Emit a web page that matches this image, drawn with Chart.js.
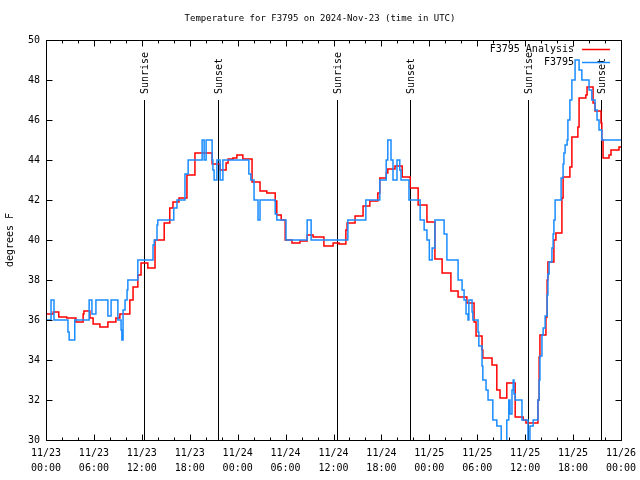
<!DOCTYPE html>
<html>
<head>
<meta charset="utf-8">
<script src="https://cdn.jsdelivr.net/npm/chart.js@4/dist/chart.umd.min.js"></script>
<style>
  html, body { margin: 0; padding: 0; background: #fff; }
</style>
</head>
<body>
<canvas id="myChart" width="640" height="480"></canvas>
<script>
// hours since 11/23 00:00 UTC, temperature in degrees F
const obsHours = [0, 0.63, 1.0, 2.75, 2.9, 3.6, 5.4, 5.75, 6.25, 7.75, 8.15, 9.0, 9.4, 9.5, 9.65, 9.9, 10.15, 10.25,
  11.5, 13.4, 13.55, 13.9, 14.0, 16.0, 16.4, 17.4, 17.8, 19.55, 19.8, 20.05, 20.8, 20.9, 21.05, 21.4, 21.8, 22.15,
  25.4, 25.65, 26.05, 26.55, 26.8, 28.7, 28.9, 30.05, 32.7, 33.2, 37.8, 40.05, 41.8, 42.6, 42.8, 43.2, 43.45, 43.95,
  44.3, 44.45, 45.45, 46.85, 47.35, 47.7, 48.0, 48.35, 48.7, 49.85, 50.2, 51.6, 52.1, 52.35, 52.6, 52.85, 52.95,
  53.35, 53.45, 54.1, 54.2, 54.6, 54.7, 55.1, 55.35, 55.95, 56.45, 57.0, 57.7, 57.95, 58.1, 58.35, 58.5, 58.6, 58.75,
  59.6, 60.1, 60.35, 60.6, 61.0, 61.6, 61.75, 61.85, 62.1, 62.25, 62.5, 62.75, 62.85, 63.0, 63.35, 63.5, 63.6, 63.75,
  64.5, 64.75, 64.85, 65.0, 65.25, 65.35, 65.6, 65.85, 66.25, 66.75, 67.1, 68.0, 68.35, 68.75, 69.0, 69.25, 69.6, 72];
const obsTemps = [36, 37, 36, 35.4, 35, 36, 37, 36.3, 37, 36.2, 37, 36, 35.5, 35, 36.5, 37, 37.5, 38,
  39, 39.75, 40, 40.75, 41, 41.6, 42, 43.3, 44, 45, 44, 45, 44, 43.5, 43, 44, 43, 44,
  43.3, 43, 42, 41, 42, 41.3, 41, 40, 41, 40, 41, 42, 43, 44, 45, 44, 43, 44,
  43.5, 43, 42, 41, 40.5, 40, 39, 39.6, 41, 40.3, 39, 38, 37.5, 37, 36.3, 36, 37,
  36.4, 36, 35.4, 34.7, 33.7, 33, 32.5, 32, 31, 30.7, 29.5, 31, 32, 31.3, 32.5, 33, 32.3, 32,
  31, 31, 29.5, 30.7, 31, 32, 33, 34.2, 35.25, 35.6, 36.2, 37.25, 38.3, 38.9, 39.6, 40.3, 41, 42,
  43.1, 43.8, 44.35, 44.75, 45, 46, 47, 48, 49, 48.5, 48, 47.5, 47, 46.5, 46, 45.5, 45, 45];

const anaHours = [0, 0.9, 1.6, 2.6, 3.75, 4.65, 4.75, 5.5, 5.9, 6.75, 7.75, 8.75, 9.25, 10.5, 10.9, 11.5, 11.9,
  12.75, 13.65, 14.8, 15.5, 15.9, 16.65, 17.65, 18.65, 20.8, 21.8, 22.55, 22.8, 23.4, 23.9, 24.65, 25.8, 26.8,
  27.65, 28.7, 28.9, 29.45, 29.95, 30.8, 31.8, 32.7, 33.45, 34.8, 35.95, 36.7, 37.55, 37.7, 38.7, 39.7, 40.55,
  41.55, 41.8, 42.6, 42.8, 43.7, 44.6, 45.6, 46.6, 47.7, 48.7, 49.6, 50.7, 51.6, 52.7, 53.6, 53.85, 54.6, 54.7,
  55.85, 56.45, 56.85, 57.7, 58.75, 59.75, 60.1, 61.6, 61.75, 61.85, 62.6, 62.75, 62.85, 63.6, 63.85, 64.6, 64.75,
  65.6, 65.85, 66.6, 66.75, 67.6, 67.75, 68.5, 68.75, 69.5, 69.6, 69.75, 70.5, 70.75, 71.75, 72];
const anaTemps = [36.3, 36.4, 36.15, 36.1, 35.9, 36.3, 36.45, 36.1, 35.8, 35.65, 35.9, 36.1, 36.3, 37.0, 37.65, 38.25, 38.85,
  38.6, 40, 40.85, 41.6, 41.9, 42.1, 43.25, 44.35, 43.8, 43.5, 43.85, 44.05, 44.1, 44.25, 44.05, 42.9, 42.45,
  42.35, 41.95, 41.25, 41, 40, 39.85, 39.95, 40.25, 40.15, 39.7, 39.85, 39.8, 40.5, 40.85, 41.2, 41.7, 41.95,
  42.35, 43.1, 43.35, 43.55, 43.7, 43.15, 42.6, 41.75, 40.9, 39.05, 38.35, 37.45, 37.15, 36.85, 35.9, 35.2, 34.5, 34.1,
  33.75, 32.5, 32.1, 32.85, 31.15, 31, 30.85, 32, 34.15, 35.25, 36.15, 38, 38.9, 40, 40.35, 42.1, 43.15,
  43.65, 45.15, 45.65, 47.1, 47.25, 47.65, 46.85, 46.45, 45.85, 45.0, 44.1, 44.25, 44.5, 44.65, 44.65];

const sunHours = [12.31, 21.58, 36.4, 45.62, 60.39, 69.5];
const sunLabels = ["Sunrise", "Sunset", "Sunrise", "Sunset", "Sunrise", "Sunset"];
const dayLabels = ["11/23", "11/24", "11/25", "11/26"];
const titleText = "Temperature for F3795 on 2024-Nov-23 (time in UTC)";

const mono = "'DejaVu Sans Mono', 'Liberation Mono', monospace";

const toPoints = (xs, ys) => xs.map((x, i) => ({ x: x, y: ys[i] }));

// gnuplot look: title, border, inward ticks, sun lines, legend on the right
const gnuplotBits = {
  id: "gnuplotBits",
  beforeDatasetsDraw(chart) {
    const { ctx, scales: { x, y } } = chart;
    ctx.save();
    ctx.strokeStyle = "#000";
    ctx.lineWidth = 1;
    ctx.fillStyle = "#000";
    ctx.font = "10px " + mono;
    sunHours.forEach((h, i) => {
      const px = Math.round(x.getPixelForValue(h)) + 0.5;
      ctx.beginPath();
      ctx.moveTo(px, y.getPixelForValue(30));
      ctx.lineTo(px, y.getPixelForValue(47));
      ctx.stroke();
      ctx.save();
      ctx.translate(px + 1, y.getPixelForValue(47) - 6);
      ctx.rotate(-Math.PI / 2);
      ctx.textAlign = "left";
      ctx.textBaseline = "middle";
      ctx.fillText(sunLabels[i], 0, 0);
      ctx.restore();
    });
    ctx.restore();
  },
  afterDraw(chart) {
    const { ctx, chartArea: a, scales: { x, y } } = chart;
    ctx.save();
    ctx.fillStyle = "#000";
    ctx.font = "9px " + mono;
    ctx.textAlign = "center";
    ctx.textBaseline = "middle";
    ctx.fillText(titleText, chart.width / 2, 19);

    ctx.strokeStyle = "#000";
    ctx.lineWidth = 1;
    const L = Math.round(a.left) + 0.5, R = Math.round(a.right) + 0.5;
    const T = Math.round(a.top) + 0.5, B = Math.round(a.bottom) + 0.5;
    ctx.strokeRect(L, T, R - L, B - T);
    ctx.beginPath();
    for (let h = 0; h <= 72; h += 2) {
      const px = Math.round(x.getPixelForValue(h)) + 0.5;
      const len = h % 6 === 0 ? 6 : 3;
      ctx.moveTo(px, B); ctx.lineTo(px, B - len);
      ctx.moveTo(px, T); ctx.lineTo(px, T + len);
    }
    for (let v = 30; v <= 50; v += 2) {
      const py = Math.round(y.getPixelForValue(v)) + 0.5;
      ctx.moveTo(L, py); ctx.lineTo(L + 6, py);
      ctx.moveTo(R, py); ctx.lineTo(R - 6, py);
    }
    ctx.stroke();

    // legend: text then sample line, like gnuplot's key
    ctx.font = "10px " + mono;
    ctx.textAlign = "right";
    ctx.textBaseline = "middle";
    chart.data.datasets.forEach((ds, i) => {
      const ly = 49 + i * 13;
      ctx.fillText(ds.label, 574, ly);
      ctx.strokeStyle = ds.borderColor;
      ctx.lineWidth = 1.5;
      ctx.beginPath();
      ctx.moveTo(582, ly + 0.5);
      ctx.lineTo(610, ly + 0.5);
      ctx.stroke();
    });
    ctx.restore();
  }
};

new Chart(document.getElementById("myChart"), {
  type: "line",
  data: {
    datasets: [
      {
        label: "F3795 Analysis",
        data: toPoints(anaHours, anaTemps),
        borderColor: "#ff0000",
        borderWidth: 1.5,
        stepped: true,
        pointRadius: 0,
        fill: false,
        clip: 0,
        order: 1,
      },
      {
        label: "F3795",
        data: toPoints(obsHours, obsTemps),
        borderColor: "#1a8cff",
        borderWidth: 1.5,
        stepped: true,
        pointRadius: 0,
        fill: false,
        clip: 0,
        order: 0,
      },
    ],
  },
  options: {
    responsive: false,
    animation: false,
    layout: { padding: { left: 0, right: 19, top: 40, bottom: 0 } },
    plugins: {
      legend: { display: false },
      tooltip: { enabled: false },
      title: { display: false },
    },
    scales: {
      x: {
        type: "linear",
        min: 0,
        max: 72,
        grid: { display: false, drawTicks: false },
        border: { display: false },
        ticks: {
          stepSize: 6,
          autoSkip: false,
          maxRotation: 0,
          color: "#000",
          padding: 6,
          font: { family: mono, size: 10, lineHeight: "15px" },
          callback: (v) => {
            const day = Math.floor(v / 24);
            const hh = v % 24;
            return [dayLabels[day], (hh < 10 ? "0" : "") + hh + ":00"];
          },
        },
        afterFit: (s) => {
          s.height = 40;
          s.paddingLeft = 0;
          s.paddingRight = 0;
        },
      },
      y: {
        min: 30,
        max: 50,
        grid: { display: false, drawTicks: false },
        border: { display: false },
        ticks: {
          stepSize: 2,
          color: "#000",
          padding: 6,
          font: { family: mono, size: 10 },
        },
        title: {
          display: true,
          text: "degrees F",
          color: "#000",
          font: { family: mono, size: 10 },
          padding: { top: 4, bottom: 0 },
        },
        afterFit: (s) => { s.width = 46; },
      },
    },
  },
  plugins: [gnuplotBits],
});
</script>
</body>
</html>
